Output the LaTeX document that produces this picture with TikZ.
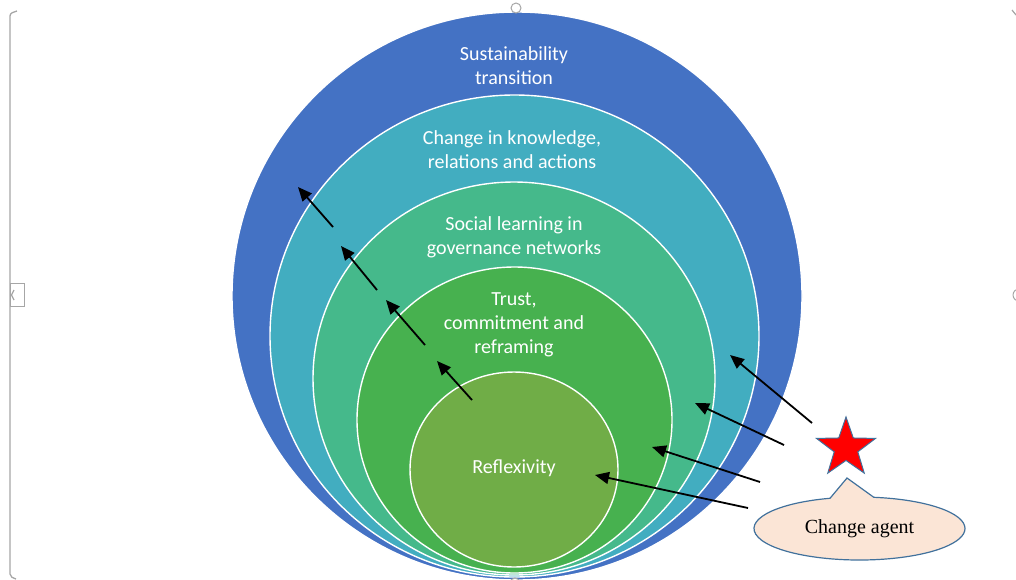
\documentclass[tikz,border=0pt]{standalone}
\usepackage{fontspec}
\setmainfont{Carlito}
\newfontfamily\tnrfont{Liberation Serif}
\usetikzlibrary{shapes.geometric,shapes.callouts,arrows.meta}
\definecolor{blueC}{HTML}{4472C4}
\definecolor{tealC}{HTML}{42ADC0}
\definecolor{seaC}{HTML}{45B98B}
\definecolor{greenC}{HTML}{47B14F}
\definecolor{oliveC}{HTML}{70AD47}
\definecolor{peachC}{HTML}{FBE5D6}
\definecolor{edgeC}{HTML}{41719C}
\definecolor{frameC}{HTML}{A6A6A6}
\tikzset{
  ring/.style={ellipse, inner sep=0pt, draw=white, line width=1.4pt},
  ringtext/.style={text=white, align=center, font=\fontsize{20}{24}\selectfont, inner sep=0pt},
  push/.style={line width=1.8pt, -{Triangle[length=14pt,width=12pt]}},
  handle/.style={draw=frameC, fill=white, line width=1pt}
}
\begin{document}
\begin{tikzpicture}[x=1pt,y=-1pt]
\useasboundingbox (0,0) rectangle (1016,579);
% selection frame
\draw[frameC, line width=1.3pt] (17,11) to[out=200,in=90] (10,16) -- (10,574) to[out=-90,in=160] (16,579);
\draw[handle] (10,283) rectangle (24,306);
\draw[frameC, line width=1.2pt] (14,290) -- (11.5,295) -- (14,300);
\draw[frameC, line width=1.2pt] (1012,10) -- (1016,15);
\draw[handle] (1019,295) circle (6);
% circles
\node[ring, fill=blueC, minimum width=570pt, minimum height=568pt] (c1) at (517,296) {};
\node[ring, fill=tealC, minimum width=489pt, minimum height=482pt] (c2) at (514.5,336) {};
\node[ring, fill=seaC, minimum width=402pt, minimum height=393pt] (c3) at (514,378.5) {};
\node[ring, fill=greenC, minimum width=315pt, minimum height=306pt] (c4) at (514.5,420) {};
\node[ring, fill=oliveC, minimum width=208pt, minimum height=195pt] (c5) at (514,469.5) {};
\draw[handle] (516,8) circle (5);
\draw[handle] (515,583) circle (5);
% labels
\node[ringtext] (t1) at (514,66) {Sustainability\\transition};
\node[ringtext] (t2) at (512,150) {Change in knowledge,\\relations and actions};
\node[ringtext] (t3) at (514,237) {Social learning in\\governance networks};
\node[ringtext] (t4) at (514,325) {Trust,\\commitment and\\reframing};
\node[ringtext] (t5) at (514,468) {Reflexivity};
% outward arrows
\coordinate (u1s) at (472,400); \coordinate (u1e) at (437,361);
\coordinate (u2s) at (425,345); \coordinate (u2e) at (386,300);
\coordinate (u3s) at (377,290); \coordinate (u3e) at (341,246);
\coordinate (u4s) at (333,227); \coordinate (u4e) at (298,187);
\draw[push] (u1s) -- (u1e);
\draw[push] (u2s) -- (u2e);
\draw[push] (u3s) -- (u3e);
\draw[push] (u4s) -- (u4e);
% change agent arrows
\coordinate (r1s) at (812,423); \coordinate (r1e) at (730,355);
\coordinate (r2s) at (784,445); \coordinate (r2e) at (695,403);
\coordinate (r3s) at (760,482); \coordinate (r3e) at (652,447);
\coordinate (r4s) at (748,508); \coordinate (r4e) at (595,475);
\draw[push] (r1s) -- (r1e);
\draw[push] (r2s) -- (r2e);
\draw[push] (r3s) -- (r3e);
\draw[push] (r4s) -- (r4e);
% star and callout
\node[star, star points=5, star point ratio=2.5, minimum size=62pt, inner sep=0pt, fill=red, draw=edgeC, line width=1pt] (st) at (846,448) {};
\coordinate (tip) at (847,478);
\node[ellipse callout, callout absolute pointer={(tip)}, callout pointer arc=24, minimum width=211pt, minimum height=63pt, inner sep=0pt, fill=peachC, draw=edgeC, line width=1.2pt, font=\tnrfont\fontsize{20}{24}\selectfont] (ca) at (859.5,528.5) {Change agent};
\end{tikzpicture}
\end{document}
